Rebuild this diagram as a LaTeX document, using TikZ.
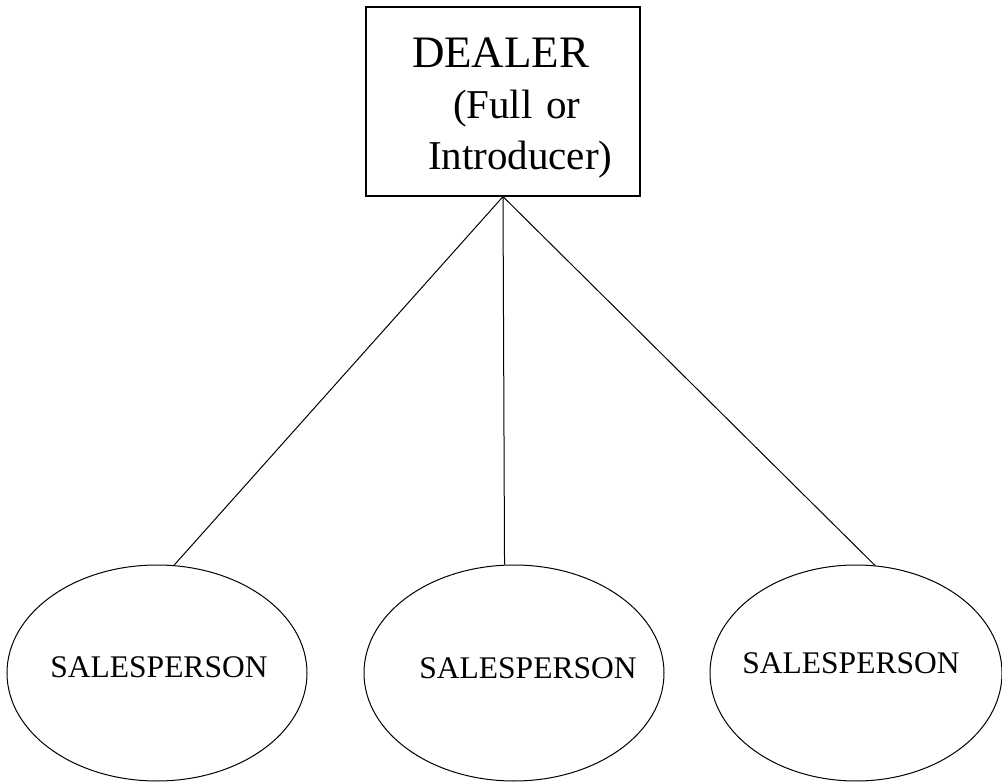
\documentclass[tikz,border=0pt]{standalone}
\usepackage{fontspec}
\setmainfont{Liberation Serif}
\usetikzlibrary{shapes.geometric,positioning}

\begin{document}
\begin{tikzpicture}[on grid,
   dealerbox/.style={draw,line width=1.2pt,rectangle,minimum width=274pt,minimum height=189pt,
      text width=228pt,inner xsep=23pt,inner ysep=0pt,align=left,font=\fontsize{41}{51}\selectfont},
   salesnode/.style={draw,line width=1pt,ellipse,minimum width=300pt,minimum height=216pt,inner sep=0pt},
   saleslabel/.style={font=\fontsize{31.5}{36}\selectfont},
   conn/.style={line width=1pt}]
   \useasboundingbox (0,0) rectangle (1002pt,-783pt);
   \node[dealerbox] (dealer) at (503pt,-101.5pt)
      {\rule{0pt}{43pt}\hspace*{23pt}{\fontsize{45}{51}\selectfont DEALER}\\
       \hspace*{64pt}(Full or\\
       \hspace*{39pt}Introducer)};
   \node[salesnode,label={[saleslabel,xshift=14pt,yshift=5pt]center:SALESPERSON}] (sp2) [below right=571.5pt and 11pt of dealer] {};
   \node[salesnode,label={[saleslabel,xshift=2pt,yshift=6pt]center:SALESPERSON}] (sp1) [left=357pt of sp2] {};
   \node[salesnode,minimum width=292pt,label={[saleslabel,xshift=-5pt,yshift=10pt]center:SALESPERSON}] (sp3) [right=342pt of sp2] {};
   \draw[conn] (dealer.south) -- (sp1.81)
               (dealer.south) -- (sp2.95)
               (dealer.south) -- (sp3.80);
\end{tikzpicture}
\end{document}
